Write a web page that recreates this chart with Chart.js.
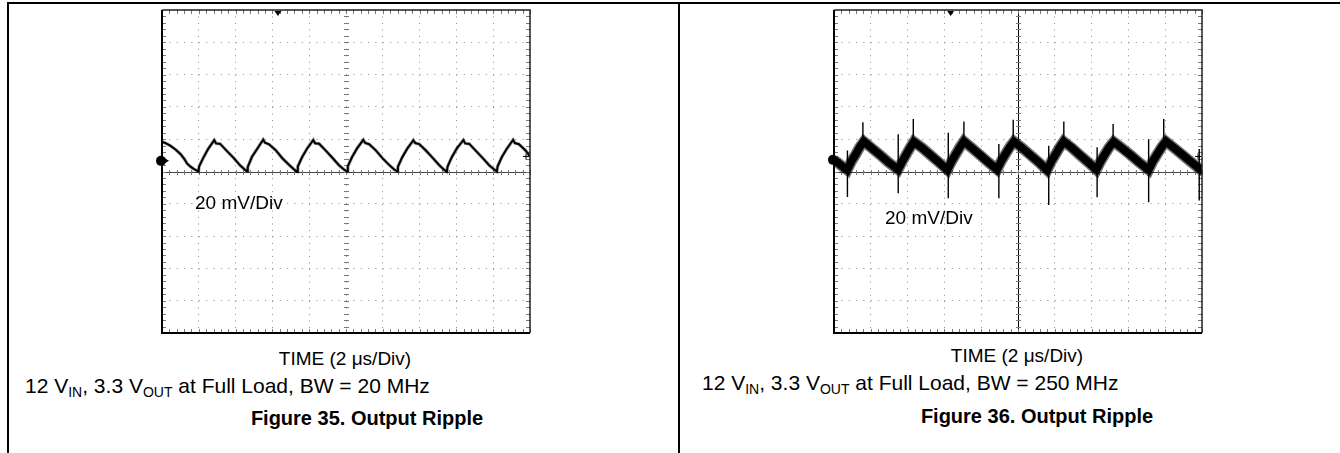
<!DOCTYPE html>
<html>
<head>
<meta charset="utf-8">
<title>Output Ripple</title>
<script src="https://cdn.jsdelivr.net/npm/chart.js@4.4.1/dist/chart.umd.min.js"></script>
<style>
  html, body { margin: 0; padding: 0; background: #fff; }
  body {
    width: 1340px; height: 453px; position: relative; overflow: hidden;
    font-family: "Liberation Sans", Arial, sans-serif; color: #000;
  }
  .rule { position: absolute; background: #000; }
  canvas.scope { position: absolute; top: 0; }
  .txt { position: absolute; white-space: nowrap; line-height: 1; font-size: 19px; }
  .txt.center { transform: translateX(-50%); }
  .txt.cond { font-size: 21px; }
  .txt.fig { font-size: 20px; font-weight: bold; }
  .txt .sub { font-size: 14px; position: relative; top: 4px; }
</style>
</head>
<body>
<!-- page rules around the two figure cells -->
<div class="rule" style="left:7px; top:2px; width:1333px; height:2px;"></div>
<div class="rule" style="left:7px; top:2px; width:2px; height:451px;"></div>
<div class="rule" style="left:678px; top:2px; width:2px; height:451px;"></div>

<canvas id="scopeLeft" class="scope" width="392" height="345" style="left:150px;"></canvas>
<canvas id="scopeRight" class="scope" width="392" height="345" style="left:822px;"></canvas>

<div class="txt" style="left:195px; top:193px;">20 mV/Div</div>
<div class="txt center" style="left:345px; top:349px;">TIME (2 μs/Div)</div>
<div class="txt cond" style="left:25px; top:375px;">12 V<span class="sub">IN</span>, 3.3 V<span class="sub">OUT</span> at Full Load, BW = 20 MHz</div>
<div class="txt fig center" style="left:367px; top:408px;">Figure 35. Output Ripple</div>

<div class="txt" style="left:885px; top:208px;">20 mV/Div</div>
<div class="txt center" style="left:1017px; top:346px;">TIME (2 μs/Div)</div>
<div class="txt cond" style="left:702px; top:372px;">12 V<span class="sub">IN</span>, 3.3 V<span class="sub">OUT</span> at Full Load, BW = 250 MHz</div>
<div class="txt fig center" style="left:1037px; top:406px;">Figure 36. Output Ripple</div>

<script>
// Output ripple scope captures, time in us (2 us/div), ripple in mV (20 mV/div)

// Figure 35 - BW = 20 MHz trace
const leftTimeUs = [
    0, 0.2, 0.45, 0.75, 1.0, 1.2, 1.36, 1.55, 1.72,
    1.98, 2.02, 2.25, 2.52, 2.84, 2.94, 3.16, 3.52, 3.88, 4.24, 4.52,
    4.62, 4.66, 4.89, 5.16, 5.50, 5.60, 5.82, 6.18, 6.54, 6.90, 7.18,
    7.34, 7.38, 7.61, 7.88, 8.22, 8.32, 8.54, 8.90, 9.26, 9.62, 9.90,
    10.06, 10.10, 10.33, 10.60, 10.94, 11.04, 11.26, 11.62, 11.98, 12.34, 12.62,
    12.78, 12.82, 13.05, 13.32, 13.66, 13.76, 13.98, 14.34, 14.70, 15.06, 15.34,
    15.48, 15.52, 15.75, 16.02, 16.38, 16.48, 16.70, 17.06, 17.42, 17.78, 18.06,
    18.20, 18.24, 18.47, 18.74, 19.08, 19.18, 19.40, 19.76, 20.0
];
const leftRippleMv = [
    18.5, 17.5, 16.0, 13.5, 10.9, 8.0, 5.0, 3.0, 1.6,
    0, 3.2, 8.6, 14.2, 19.4, 17.4, 17.1, 12.8, 8.6, 3.8, 1.0,
    0.2, 2.8, 9.1, 13.8, 19.7, 17.8, 16.8, 13.2, 8.2, 4.2, 1.3,
    -0.2, 3.1, 8.8, 14.1, 19.5, 17.5, 17.2, 12.9, 8.5, 3.9, 1.1,
    0, 3.3, 9.0, 14.3, 19.6, 17.7, 16.9, 13.1, 8.3, 4.1, 1.2,
    0.1, 2.9, 8.7, 14.0, 19.4, 17.6, 17.0, 13.0, 8.6, 4.0, 1.0,
    -0.1, 3.0, 8.9, 14.2, 19.5, 17.4, 17.1, 12.8, 8.4, 3.9, 1.2,
    0, 3.2, 9.0, 14.1, 19.6, 17.6, 16.9, 13.0, 9.4
];

// Figure 36 - BW = 250 MHz trace (centre of the noise band)
const rightTimeUs = [
    0, 0.25, 0.5,
    0.72, 0.94, 1.17, 1.40, 1.62, 2.07, 2.52, 2.97,
    3.48, 3.70, 3.93, 4.14, 4.34, 4.79, 5.24, 5.69,
    6.16, 6.38, 6.61, 6.84, 7.06, 7.51, 7.96, 8.41,
    8.86, 9.08, 9.32, 9.56, 9.78, 10.23, 10.68, 11.13,
    11.58, 11.80, 12.03, 12.26, 12.48, 12.93, 13.38, 13.83,
    14.26, 14.48, 14.72, 14.96, 15.20, 15.65, 16.12, 16.60,
    17.10, 17.32, 17.56, 17.80, 18.04, 18.50, 18.96, 19.42,
    19.92, 20.0
];
const rightRippleMv = [
    7.2, 5.0, 2.8,
    1.0, 6.2, 10.4, 15.1, 18.6, 14.3, 10.1, 5.6,
    1.2, 6.0, 10.6, 14.8, 18.4, 14.6, 10.2, 5.8,
    1.0, 6.1, 10.5, 15.0, 18.7, 14.4, 10.0, 5.5,
    1.3, 6.2, 10.8, 15.2, 18.5, 14.5, 10.1, 5.7,
    0.9, 6.0, 10.4, 14.9, 18.6, 14.6, 10.0, 5.6,
    1.1, 6.1, 10.7, 15.1, 18.4, 14.5, 10.2, 5.5,
    1.0, 6.2, 10.6, 15.0, 18.6, 14.4, 10.1, 5.8,
    1.2, 1.8
];

// switching spikes on the 250 MHz capture
const spikeTimeUs = [0.73, 1.57, 3.49, 4.31, 6.21, 7.06, 8.96, 9.74, 11.67, 12.49, 14.30, 15.17, 17.10, 17.92, 19.85];
const spikeLowMv  = [-15.8, 19, -13.4, 19, -16.5, 19, -16.5, 19, -20.8, 19, -16, 19, -19, 19, -18];
const spikeHighMv = [13, 30.5, 23, 32.5, 24, 31, 17, 32, 16, 31, 15, 29.4, 20, 32.5, 14];

// scope markers (trigger position, channel ground, right-edge level)
const leftMarkers = { triggerUs: 6.3, groundMv: 6.6, edgeMv: 9.3 };
const rightMarkers = { triggerUs: 6.34, groundMv: 7.2, edgeMv: 9.3 };

const scopeFramePlugin = {
    id: 'scopeFrame',
    beforeDatasetsDraw(chart, args, opts) {
        const { ctx, chartArea: a, scales: { x, y } } = chart;
        ctx.save();

        // centre horizontal reference line
        const y0 = Math.round(y.getPixelForValue(0)) + 0.5;
        ctx.strokeStyle = '#444';
        ctx.lineWidth = 1;
        ctx.beginPath();
        ctx.moveTo(a.left, y0);
        ctx.lineTo(a.right, y0);
        ctx.stroke();

        const xc = Math.round(x.getPixelForValue(10)) + 0.5;
        if (opts.solidCenterX) {
            ctx.strokeStyle = '#000';
            ctx.beginPath();
            ctx.moveTo(xc, a.top);
            ctx.lineTo(xc, a.bottom);
            ctx.stroke();
        }

        // minor ticks, 5 per division, on the frame and the centre cross
        ctx.strokeStyle = '#7a7a7a';
        ctx.lineWidth = 1;
        ctx.beginPath();
        for (let t = 0.4; t < 20; t += 0.4) {
            const px = Math.round(x.getPixelForValue(t)) + 0.5;
            ctx.moveTo(px, a.top); ctx.lineTo(px, a.top + 4);
            ctx.moveTo(px, a.bottom); ctx.lineTo(px, a.bottom - 4);
            ctx.moveTo(px, y0 - 2.5); ctx.lineTo(px, y0 + 2.5);
        }
        for (let v = -96; v < 100; v += 4) {
            const py = Math.round(y.getPixelForValue(v)) + 0.5;
            ctx.moveTo(a.left, py); ctx.lineTo(a.left + 4, py);
            ctx.moveTo(a.right, py); ctx.lineTo(a.right - 4, py);
            ctx.moveTo(xc - 2.5, py); ctx.lineTo(xc + 2.5, py);
        }
        ctx.stroke();
        ctx.restore();
    },
    afterDatasetsDraw(chart, args, opts) {
        const { ctx, chartArea: a, scales: { x, y } } = chart;
        const m = opts.markers;
        ctx.save();

        // frame
        ctx.strokeStyle = '#222';
        ctx.lineWidth = 1.5;
        ctx.beginPath();
        ctx.moveTo(a.left, a.top); ctx.lineTo(a.right, a.top); ctx.lineTo(a.right, a.bottom);
        ctx.stroke();
        ctx.strokeStyle = '#000';
        ctx.lineWidth = 2;
        ctx.beginPath();
        ctx.moveTo(a.left, a.top); ctx.lineTo(a.left, a.bottom); ctx.lineTo(a.right, a.bottom);
        ctx.stroke();

        ctx.fillStyle = '#000';
        // trigger marker
        const tx = x.getPixelForValue(m.triggerUs);
        ctx.beginPath();
        ctx.moveTo(tx - 3.5, a.top + 1);
        ctx.lineTo(tx + 3.5, a.top + 1);
        ctx.lineTo(tx, a.top + 6);
        ctx.closePath();
        ctx.fill();

        // channel ground marker
        const gy = y.getPixelForValue(m.groundMv);
        ctx.beginPath();
        ctx.arc(a.left - 1, gy, 5, 0, Math.PI * 2);
        ctx.fill();
        ctx.beginPath();
        ctx.moveTo(a.left + 2, gy - 3);
        ctx.lineTo(a.left + 7, gy);
        ctx.lineTo(a.left + 2, gy + 3);
        ctx.closePath();
        ctx.fill();

        // right edge level marker
        const ey = y.getPixelForValue(m.edgeMv);
        ctx.lineWidth = 1;
        ctx.beginPath();
        ctx.moveTo(a.right - 7, ey); ctx.lineTo(a.right - 1, ey);
        ctx.moveTo(a.right - 4, ey - 3); ctx.lineTo(a.right - 4, ey + 3);
        ctx.stroke();
        ctx.restore();
    }
};

function toPoints(xs, ys) {
    return xs.map((t, i) => ({ x: t, y: ys[i] }));
}

function spikePoints() {
    const pts = [];
    spikeTimeUs.forEach((t, i) => {
        pts.push({ x: t, y: spikeLowMv[i] });
        pts.push({ x: t, y: spikeHighMv[i] });
        pts.push({ x: t, y: null });
    });
    return pts;
}

function createScope(canvasId, datasets, frameOpts) {
    const ctx = document.getElementById(canvasId).getContext('2d');
    return new Chart(ctx, {
        type: 'scatter',
        plugins: [scopeFramePlugin],
        data: { datasets: datasets },
        options: {
            responsive: false,
            animation: false,
            events: [],
            layout: { padding: { left: 12, right: 12, top: 10, bottom: 12 } },
            plugins: {
                legend: { display: false },
                tooltip: { enabled: false },
                scopeFrame: frameOpts
            },
            scales: {
                x: {
                    type: 'linear', min: 0, max: 20,
                    ticks: { display: false, stepSize: 2 },
                    grid: { color: '#8c8c8c', lineWidth: 1, drawTicks: false },
                    border: { display: false, dash: [1, 5.47] }
                },
                y: {
                    type: 'linear', min: -100, max: 100,
                    ticks: { display: false, stepSize: 20 },
                    grid: { color: '#8c8c8c', lineWidth: 1, drawTicks: false },
                    border: { display: false, dash: [1, 6.36] }
                }
            }
        }
    });
}

const traceStyle = { showLine: true, pointRadius: 0, tension: 0, fill: false };

createScope('scopeLeft', [
    { ...traceStyle, data: toPoints(leftTimeUs, leftRippleMv), borderColor: 'rgba(0,0,0,0.35)', borderWidth: 3.4 },
    { ...traceStyle, data: toPoints(leftTimeUs, leftRippleMv), borderColor: '#000', borderWidth: 2 }
], { solidCenterX: false, markers: leftMarkers });

createScope('scopeRight', [
    { ...traceStyle, data: toPoints(rightTimeUs, rightRippleMv), borderColor: 'rgba(0,0,0,0.55)', borderWidth: 11 },
    { ...traceStyle, data: toPoints(rightTimeUs, rightRippleMv), borderColor: '#000', borderWidth: 8 },
    { ...traceStyle, data: spikePoints(), borderColor: '#000', borderWidth: 1.4, spanGaps: false }
], { solidCenterX: true, markers: rightMarkers });
</script>
</body>
</html>
